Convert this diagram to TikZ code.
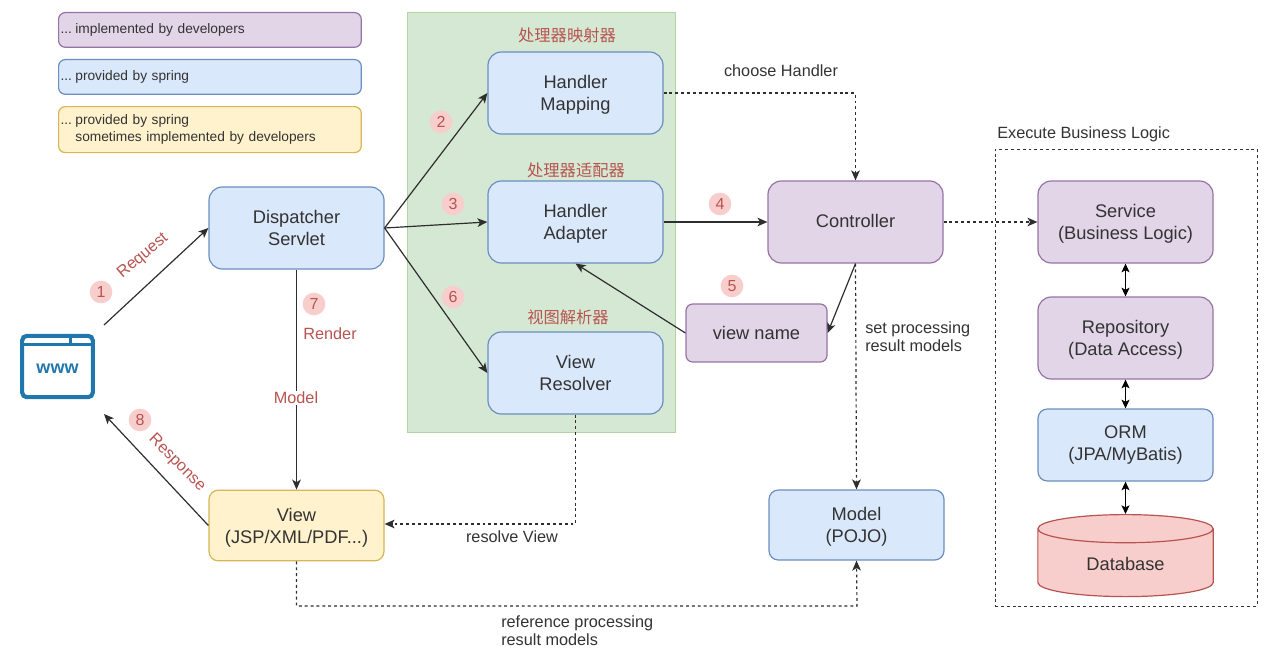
\documentclass[tikz,border=0pt]{standalone}
\usepackage{fontspec}
\setmainfont{Liberation Sans}
\newfontfamily\cjk{Noto Sans CJK SC}
\usetikzlibrary{arrows.meta,shapes.geometric,calc}
\definecolor{purF}{HTML}{E1D5E7}\definecolor{purD}{HTML}{9673A6}
\definecolor{bluF}{HTML}{DAE8FC}\definecolor{bluD}{HTML}{6C8EBF}
\definecolor{yelF}{HTML}{FFF2CC}\definecolor{yelD}{HTML}{D6B656}
\definecolor{redF}{HTML}{F8CECC}\definecolor{redD}{HTML}{B85450}
\definecolor{grnF}{HTML}{D5E8D4}\definecolor{grnD}{HTML}{B5D4A5}
\definecolor{ink}{HTML}{333333}\definecolor{iconc}{HTML}{1F77AE}
\newcommand{\lft}{\rule{0pt}{12.8pt}}
\tikzset{
 x=0.75pt,y=-0.75pt,
 boxn/.style={draw,rounded corners=10pt,line width=0.9pt,align=center,text=ink,inner sep=0pt,
   font=\fontsize{13.7}{16.6}\selectfont,minimum width=131.25pt},
 pur/.style={boxn,fill=purF,draw=purD},
 blu/.style={boxn,fill=bluF,draw=bluD},
 yel/.style={boxn,fill=yelF,draw=yelD},
 legend/.style={draw,rounded corners=5pt,line width=0.9pt,align=left,text=ink,anchor=north west,inner sep=0pt,
   minimum width=227pt,text width=224pt,font=\fontsize{10.3}{13.2}\selectfont},
 solidc/.style={draw=ink!90!black,line width=0.9pt,-{Stealth[length=7.5pt,width=6.5pt,inset=2pt]}},
 dotc/.style={solidc,dash pattern=on 2.2pt off 2.2pt},
 both/.style={draw=black,line width=1pt,{Stealth[length=6.5pt,width=6pt,inset=1.5pt]}-{Stealth[length=6.5pt,width=6pt,inset=1.5pt]}},
 badge/.style={circle,fill=redF,text=redD,inner sep=0pt,minimum size=17pt,font=\fontsize{12}{14}\selectfont},
 redl/.style={text=redD,font=\fontsize{12.2}{14}\selectfont,inner sep=1pt},
 cnl/.style={text=redD,font=\cjk\fontsize{12.2}{14}\selectfont,inner sep=0pt},
 note/.style={text=ink,align=left,font=\fontsize{12.2}{13.6}\selectfont,inner sep=0pt},
}
\begin{document}
\begin{tikzpicture}
\useasboundingbox (0,0) rectangle (1269,660);
% containers
\node[draw=grnD,fill=grnF,line width=0.7pt,minimum width=201pt,minimum height=315pt,inner sep=0pt] (group) at (541,222) {};
\node[draw=ink,dash pattern=on 2.2pt off 2.2pt,line width=0.7pt,minimum width=196.5pt,minimum height=342.75pt,inner sep=0pt] (biz) at (1126,377.5) {};
% legend
\node[legend,fill=purF,draw=purD,minimum height=26pt] (l1) at (58,12) {...\hspace{2.5pt}implemented by developers};
\node[legend,fill=bluF,draw=bluD,minimum height=26pt] (l2) at (58,59) {...\hspace{2.5pt}provided by spring};
\node[legend,fill=yelF,draw=yelD,minimum height=34.5pt] (l3) at (58,106) {...\hspace{2.5pt}provided by spring\\\hspace*{11.1pt}sometimes implemented by developers};
% boxes
\node[blu,minimum height=61.5pt] (ds) at (296.5,228) {Dispatcher\\Servlet};
\node[blu,minimum height=61.5pt] (hm) at (575.5,93) {\lft Handler\\Mapping};
\node[blu,minimum height=61.5pt] (ha) at (575.5,222) {\lft Handler\\Adapter};
\node[blu,minimum height=61.5pt] (vr) at (575.5,373) {View\\Resolver};
\node[pur,minimum height=61.5pt] (ctl) at (855.5,222) {\raisebox{1pt}{Controller}};
\node[pur,minimum width=105.75pt,minimum height=43.5pt,rounded corners=5pt] (vn) at (756.5,333) {view name};
\node[blu,minimum height=52.5pt,rounded corners=7pt] (model) at (856.5,525) {\lft Model\\(POJO)};
\node[yel,minimum height=53pt,rounded corners=7pt] (view) at (296.5,525.5) {\lft View\\(JSP/XML/PDF...)};
\node[pur,minimum height=61.5pt] (svc) at (1125.5,222) {\lft Service\\(Business Logic)};
\node[pur,minimum height=61.5pt] (repo) at (1125.5,338) {\lft Repository\\(Data Access)};
\node[blu,minimum height=54pt,rounded corners=7pt] (orm) at (1125.5,445) {ORM\\(JPA/MyBatis)};
\node[cylinder,shape border rotate=90,aspect=0.36,draw=redD,fill=redF,line width=0.9pt,minimum width=131.5pt,minimum height=61.5pt,inner sep=0pt,text=ink,font=\fontsize{13.7}{16.6}\selectfont,anchor=north] (db) at (1125.5,514) {\raisebox{-12pt}{Database}};
% browser icon
\node[draw=iconc,line width=3.1pt,rounded corners=3.5pt,minimum width=53pt,minimum height=46pt,inner sep=0pt] (www) at (57.5,366.5) {\raisebox{-10pt}{\textcolor{iconc}{\fontsize{13.5}{14}\selectfont\bfseries www}}};
\draw[iconc,line width=2.4pt] ($(www.north west)+(0,11)$) -- ($(www.north east)+(0,11)$);
\draw[iconc,line width=2.4pt] ($(www.north west)+(50,0)$) -- ($(www.north west)+(50,11)$);
% free ends
\coordinate (c1) at (104,325);
\coordinate (c8) at (104,414);
\coordinate (b1) at (296.5,606);
\coordinate (b2) at (857,606);
\coordinate (r1) at (575.5,524);
\coordinate (r2) at (855.5,93);
% connectors
\draw[solidc] (c1) -- (ds.west);
\draw[solidc] (view.west) -- (c8);
\draw[solidc] (ds.east) -- (hm.west);
\draw[solidc] (ds.east) -- (ha.west);
\draw[solidc] (ds.east) -- (vr.west);
\draw[solidc] (ds.south) -- (view.north);
\draw[solidc] (ha.east) -- (ctl.west);
\draw[solidc] (ctl.south) -- (vn.east);
\draw[solidc] (vn.west) -- (ha.south);
\draw[dotc] (hm.east) -- (r2) -- (ctl.north);
\draw[dotc] (ctl.east) -- (svc.west);
\draw[dotc] (ctl.south) -- (model.north);
\draw[dotc] (vr.south) -- (r1) -- (r1 -| view.east);
\draw[dotc] (view.south) -- (b1) -- (b2) -- (model.south);
\draw[both] (svc.south) -- (repo.north);
\draw[both] (repo.south) -- (orm.north);
\draw[both] (orm.south) -- (db.north);
% badges
\node[badge] (n1) at (101,292) {1};
\node[badge] (n2) at (441,122) {2};
\node[badge] (n3) at (453,204) {3};
\node[badge] (n4) at (720,204) {4};
\node[badge] (n5) at (732,286) {5};
\node[badge] (n6) at (453,297) {6};
\node[badge] (n7) at (314,304) {7};
\node[badge] (n8) at (140,420) {8};
% red labels
\node[redl,rotate=40] (t1) at (143,256) {Request};
\node[redl] (t7) at (330,334) {Render};
\node[redl,fill=white,inner sep=1pt] (t9) at (296,398) {Model};
\node[redl,rotate=-45] (t8) at (177,463) {Response};
\node[cnl] (z1) at (567,35) {处理器映射器};
\node[cnl] (z2) at (576,170) {处理器适配器};
\node[cnl] (z3) at (568,317) {视图解析器};
% notes
\node[note,anchor=center] (a1) at (781,71) {choose Handler};
\node[note,anchor=west] (a2) at (865,337) {set processing\\result models};
\node[note,anchor=center] (a3) at (512,537) {resolve View};
\node[note,anchor=west] (a4) at (501,631) {reference processing\\result models};
\node[note,anchor=west] (a5) at (997,134) {Execute Business Logic};
\end{tikzpicture}
\end{document}
